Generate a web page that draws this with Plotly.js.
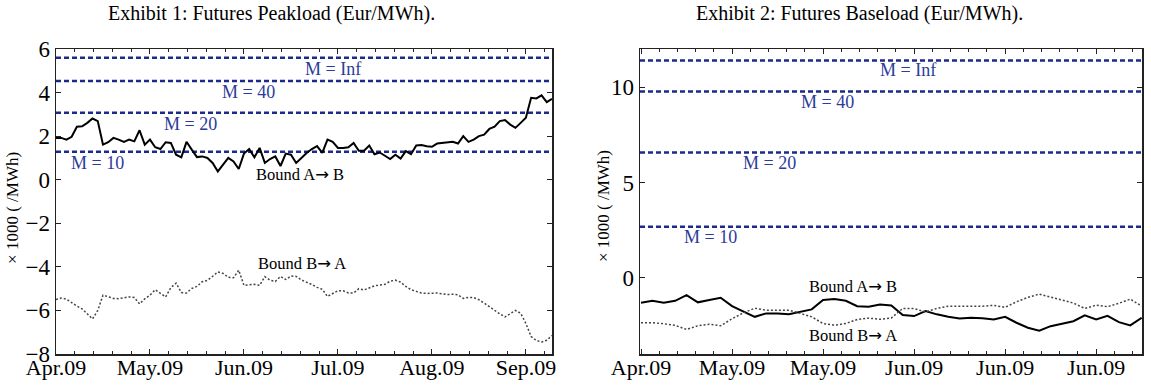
<!DOCTYPE html>
<html>
<head>
<meta charset="utf-8">
<script src="https://cdn.plot.ly/plotly-3.0.1.min.js"></script>
<style>html,body{margin:0;padding:0;background:#fff;}#chart{width:1151px;height:385px;}</style>
</head>
<body>
<div id="chart"></div>
<script>
// ---------- Exhibit 1: Futures Peakload ----------
const peakTickLabels = ["Apr.09", "May.09", "Jun.09", "Jul.09", "Aug.09", "Sep.09"];
const peakBoundAB = [1.92,1.92,1.84,1.97,2.43,2.45,2.61,2.81,2.69,1.61,
  1.72,1.92,1.84,1.74,1.84,1.76,2.27,1.61,1.84,1.49,
  1.41,1.72,1.69,1.15,1.03,1.74,1.38,1.04,1.07,1.0,
  0.77,0.38,0.69,1.0,0.84,0.49,1.2,1.41,1.03,1.46,
  0.77,0.95,1.07,0.63,1.2,1.15,0.77,1.0,1.23,1.41,
  1.54,1.23,1.84,1.74,1.46,1.46,1.49,1.69,1.33,1.33,
  1.57,1.17,1.25,1.1,0.95,1.15,0.97,1.31,1.17,1.57,
  1.59,1.54,1.51,1.66,1.69,1.69,1.74,1.66,2.0,1.74,
  1.84,2.0,2.07,2.33,2.43,2.69,2.74,2.53,2.38,2.61,
  2.84,3.76,3.73,3.87,3.56,3.71];
const peakBoundBA = [-5.5,-5.43,-5.48,-5.65,-5.8,-5.93,-6.17,-6.39,-6.0,-5.3,
  -5.37,-5.45,-5.46,-5.41,-5.38,-5.41,-5.7,-5.47,-5.3,-5.05,
  -5.22,-5.38,-4.95,-4.75,-5.18,-5.2,-4.99,-4.9,-4.68,-4.62,
  -4.43,-4.23,-4.3,-4.48,-4.5,-4.15,-4.85,-4.84,-4.8,-4.85,
  -4.45,-4.61,-4.67,-4.44,-4.58,-4.42,-4.44,-4.6,-4.7,-4.81,
  -4.94,-5.03,-5.36,-5.22,-5.09,-5.1,-5.2,-5.2,-5.0,-5.06,
  -4.96,-4.87,-4.84,-4.8,-4.66,-4.61,-4.7,-4.9,-5.05,-5.14,
  -5.2,-5.22,-5.21,-5.2,-5.24,-5.27,-5.26,-5.28,-5.45,-5.4,
  -5.41,-5.51,-5.66,-5.84,-6.0,-6.16,-6.3,-6.16,-6.0,-6.13,
  -6.6,-7.2,-7.38,-7.45,-7.37,-7.15];
const peakMLabels = ["M = Inf", "M = 40", "M = 20", "M = 10"];
const peakMLevels = [5.6, 4.53, 3.07, 1.28];

// ---------- Exhibit 2: Futures Baseload ----------
const baseTickLabels = ["Apr.09", "May.09", "May.09", "Jun.09", "Jun.09", "Jun.09"];
const baseBoundAB = [-1.31,-1.21,-1.31,-1.21,-0.91,-1.29,-1.17,-1.05,-1.49,-1.79,
  -2.05,-1.87,-1.87,-1.92,-1.79,-1.66,-1.17,-1.12,-1.21,-1.49,
  -1.52,-1.4,-1.45,-1.96,-2.01,-1.75,-1.92,-2.05,-2.14,-2.1,
  -2.12,-2.19,-2.05,-2.36,-2.62,-2.78,-2.54,-2.4,-2.28,-1.97,
  -2.19,-2.0,-2.33,-2.5,-2.1];
const baseBoundBA = [-2.36,-2.36,-2.41,-2.5,-2.71,-2.52,-2.44,-2.52,-2.15,-1.84,
  -1.6,-1.7,-1.7,-1.7,-1.87,-2.05,-2.4,-2.49,-2.4,-2.19,
  -2.12,-2.18,-2.11,-1.61,-1.62,-1.79,-1.61,-1.49,-1.49,-1.49,
  -1.49,-1.45,-1.55,-1.26,-1.03,-0.86,-1.0,-1.17,-1.33,-1.61,
  -1.44,-1.52,-1.34,-1.12,-1.49];
const baseMLabels = ["M = Inf", "M = 40", "M = 20", "M = 10"];
const baseMLevels = [11.4, 9.77, 6.57, 2.68];

const ARROW = '<span style="font-family:DejaVu Sans">\u2192</span>';
const boundLabels = ["Bound A" + ARROW + " B", "Bound B" + ARROW + " A"];

// ---------- layout helpers (positions / styles) ----------
const idx = n => Array.from({length: n}, (_, i) => i);
const FONT = "Liberation Serif, Times New Roman, serif";
const BLUE = "#1c2a8c";
const peakStep = 18, baseStep = 8;
const peakX = idx(peakBoundAB.length);
const baseX = idx(baseBoundAB.length);
const peakTickVals = peakTickLabels.map((_, i) => i * peakStep);
const baseTickVals = baseTickLabels.map((_, i) => i * baseStep);

// label positions in axis units
const peakMLabelX = [53.1, 36.8, 25.7, 8.0];
const baseMLabelX = [23.5, 16.4, 11.3, 6.1];

const solid = {color: "#000", width: 2};
const dotted = {color: "#444", width: 1.5, dash: "2px,2px"};

const traces = [
  {x: peakX, y: peakBoundAB, mode: "lines", line: solid, xaxis: "x", yaxis: "y", hoverinfo: "skip"},
  {x: peakX, y: peakBoundBA, mode: "lines", line: dotted, xaxis: "x", yaxis: "y", hoverinfo: "skip"},
  {x: baseX, y: baseBoundAB, mode: "lines", line: solid, xaxis: "x2", yaxis: "y2", hoverinfo: "skip"},
  {x: baseX, y: baseBoundBA, mode: "lines", line: dotted, xaxis: "x2", yaxis: "y2", hoverinfo: "skip"}
];

const shapes = [];
peakMLevels.forEach(v => shapes.push({type: "line", xref: "x domain", yref: "y", x0: 0, x1: 1, y0: v, y1: v,
  line: {color: BLUE, width: 2.5, dash: "5px,3px"}, layer: "below"}));
baseMLevels.forEach(v => shapes.push({type: "line", xref: "x2 domain", yref: "y2", x0: 0, x1: 1, y0: v, y1: v,
  line: {color: BLUE, width: 2.5, dash: "5px,3px"}, layer: "below"}));

const annotations = [];
const mFont = {family: FONT, size: 18, color: "#2b3b9a"};
const bFont = {family: FONT, size: 16.5, color: "#000"};
peakMLabels.forEach((t, i) => annotations.push({text: t, xref: "x", yref: "y", x: peakMLabelX[i], y: peakMLevels[i],
  yshift: -11, showarrow: false, font: mFont}));
baseMLabels.forEach((t, i) => annotations.push({text: t, xref: "x2", yref: "y2", x: baseMLabelX[i], y: baseMLevels[i],
  yshift: -10, showarrow: false, font: mFont}));
// bound labels
annotations.push({text: boundLabels[0], xref: "x", yref: "y", x: 46.7, y: 0.23, showarrow: false, font: bFont});
annotations.push({text: boundLabels[1], xref: "x", yref: "y", x: 47.1, y: -3.84, showarrow: false, font: bFont});
annotations.push({text: boundLabels[0], xref: "x2", yref: "y2", x: 18.6, y: -0.44, showarrow: false, font: bFont});
annotations.push({text: boundLabels[1], xref: "x2", yref: "y2", x: 18.6, y: -3.01, showarrow: false, font: bFont});
// titles
annotations.push({text: "Exhibit 1: Futures Peakload (Eur/MWh).", xref: "paper", yref: "paper", x: 271/1151, y: 1.1148,
  xanchor: "center", yanchor: "middle", showarrow: false, font: {family: FONT, size: 20, color: "#000"}});
annotations.push({text: "Exhibit 2: Futures Baseload (Eur/MWh).", xref: "paper", yref: "paper", x: 860/1151, y: 1.1148,
  xanchor: "center", yanchor: "middle", showarrow: false, font: {family: FONT, size: 20, color: "#000"}});
// y axis titles
const yTitleFont = {family: FONT, size: 17, color: "#000"};
annotations.push({text: "\u00d7 1000 ( /MWh)", xref: "paper", yref: "paper", x: 13/1151, y: 0.479, textangle: -90,
  xanchor: "center", yanchor: "middle", showarrow: false, font: yTitleFont});
annotations.push({text: "\u00d7 1000 ( /MWh)", xref: "paper", yref: "paper", x: 603/1151, y: 0.485, textangle: -90,
  xanchor: "center", yanchor: "middle", showarrow: false, font: yTitleFont});

const axCommon = {showgrid: false, zeroline: false, showline: true, linecolor: "#222", linewidth: 1.5, mirror: "ticks",
  ticks: "inside", ticklen: 5, tickcolor: "#222", tickwidth: 1, tickfont: {family: FONT, size: 23, color: "#000"}};
const xCommon = Object.assign({}, axCommon, {tickfont: {family: FONT, size: 22, color: "#000"}, ticklabelstandoff: -7});

const layout = {
  width: 1151, height: 385,
  margin: {l: 0, r: 0, t: 49, b: 31},
  paper_bgcolor: "#fff", plot_bgcolor: "#fff",
  showlegend: false,
  xaxis: Object.assign({}, xCommon, {domain: [56/1151, 552/1151], range: [0, 95], tickmode: "array",
    tickvals: peakTickVals, ticktext: peakTickLabels,
    minor: {dtick: peakStep / 5, tick0: 0, ticks: "inside", ticklen: 3, tickcolor: "#222", showgrid: false}}),
  yaxis: Object.assign({}, axCommon, {domain: [0, 1], range: [-8, 6], dtick: 2, tick0: 0}),
  xaxis2: Object.assign({}, xCommon, {domain: [640/1151, 1142/1151], range: [-0.09, 44.03], anchor: "y2", tickmode: "array",
    tickvals: baseTickVals, ticktext: baseTickLabels,
    minor: {dtick: baseStep / 5, tick0: 0, ticks: "inside", ticklen: 3, tickcolor: "#222", showgrid: false}}),
  yaxis2: Object.assign({}, axCommon, {domain: [0, 1], range: [-4, 12], dtick: 5, tick0: 0, anchor: "x2"}),
  shapes: shapes,
  annotations: annotations
};

Plotly.newPlot("chart", traces, layout, {staticPlot: true, displayModeBar: false});
</script>
</body>
</html>
